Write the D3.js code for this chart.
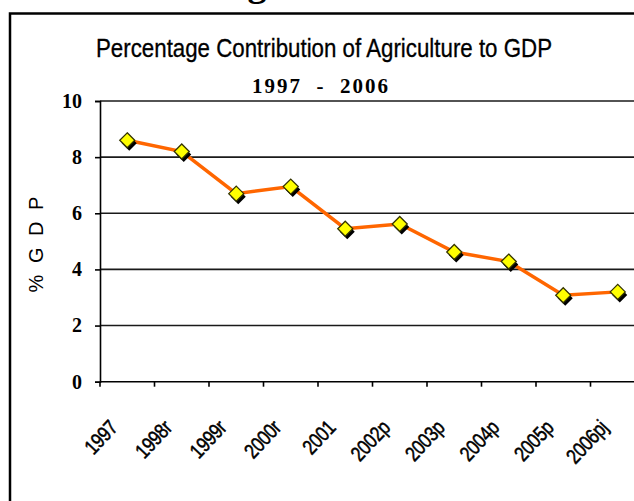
<!DOCTYPE html>
<html>
<head>
<meta charset="utf-8">
<script src="https://cdn.jsdelivr.net/npm/d3@7"></script>
<style>
  body { margin: 0; background: #fff; }
  svg { display: block; }
</style>
</head>
<body>
<div id="chart"></div>
<script>
const years = ["1997", "1998r", "1999r", "2000r", "2001", "2002p", "2003p", "2004p", "2005p", "2006pj"];
const gdpShare = [8.6, 8.2, 6.7, 6.95, 5.45, 5.62, 4.62, 4.28, 3.08, 3.2];
const yTicks = [0, 2, 4, 6, 8, 10];

const width = 634;
const height = 501;
const plot = { left: 100, right: 645, top: 101, bottom: 381.7 };

const svg = d3.select("#chart")
  .append("svg")
  .attr("width", width)
  .attr("height", height);

// heading from the page above, mostly cut off
svg.append("text")
  .attr("x", 220)
  .attr("y", -4)
  .attr("font-family", "'Liberation Serif', 'Times New Roman', serif")
  .attr("font-weight", "bold")
  .attr("font-size", 38)
  .text("Agriculture");

// outer frame
svg.append("rect")
  .attr("x", 10)
  .attr("y", 13.5)
  .attr("width", 700)
  .attr("height", 600)
  .attr("fill", "none")
  .attr("stroke", "#000")
  .attr("stroke-width", 2.5);

svg.append("text")
  .attr("x", 96)
  .attr("y", 56.5)
  .attr("textLength", 456)
  .attr("lengthAdjust", "spacingAndGlyphs")
  .attr("font-family", "'Liberation Sans Narrow', 'Arial Narrow', 'Liberation Sans', sans-serif")
  .attr("font-size", 25)
  .attr("stroke", "#000")
  .attr("stroke-width", 0.3)
  .text("Percentage Contribution of Agriculture to GDP");

svg.append("text")
  .attr("x", 252)
  .attr("y", 93)
  .attr("textLength", 136)
  .attr("lengthAdjust", "spacing")
  .attr("font-family", "'Liberation Serif', 'Times New Roman', serif")
  .attr("font-weight", "bold")
  .attr("font-size", 21)
  .style("white-space", "pre")
  .text("1997  -  2006");

const x = d3.scaleBand()
  .domain(years)
  .range([plot.left, plot.right]);

const y = d3.scaleLinear()
  .domain([0, 10])
  .range([plot.bottom, plot.top]);

// gridlines
svg.append("g")
  .selectAll("line")
  .data(yTicks.filter(d => d > 0))
  .enter()
  .append("line")
  .attr("x1", plot.left)
  .attr("x2", plot.right)
  .attr("y1", d => y(d))
  .attr("y2", d => y(d))
  .attr("stroke", "#1a1a1a")
  .attr("stroke-width", 1.6);

// y axis
const yAxis = svg.append("g")
  .attr("transform", `translate(${plot.left},0)`)
  .call(d3.axisLeft(y).tickValues(yTicks).tickSize(5).tickPadding(13));
yAxis.select(".domain").attr("stroke-width", 1.6);
yAxis.selectAll(".tick line").attr("stroke-width", 1.6);
yAxis.selectAll("text")
  .attr("font-family", "'Liberation Serif', 'Times New Roman', serif")
  .attr("font-weight", "bold")
  .attr("font-size", 20)
  .attr("fill", "#000");

// x axis, ticks on band edges
const xAxis = svg.append("g")
  .attr("transform", `translate(0,${plot.bottom})`);
xAxis.append("line")
  .attr("x1", plot.left)
  .attr("x2", plot.right)
  .attr("stroke", "#000")
  .attr("stroke-width", 1.6);
xAxis.selectAll(".xtick")
  .data(years)
  .enter()
  .append("line")
  .attr("x1", d => x(d))
  .attr("x2", d => x(d))
  .attr("y1", 0)
  .attr("y2", 5)
  .attr("stroke", "#000")
  .attr("stroke-width", 1.6);
xAxis.selectAll("text")
  .data(years)
  .enter()
  .append("text")
  .attr("transform", d => `translate(${x(d) + x.bandwidth() / 2 - 8.5},${47}) rotate(-47) scale(0.82,1)`)
  .attr("text-anchor", "end")
  .attr("font-family", "'Liberation Sans', Arial, sans-serif")
  .attr("font-size", 21)
  .attr("letter-spacing", -0.4)
  .attr("stroke", "#000")
  .attr("stroke-width", 0.5)
  .text(d => d);

svg.append("text")
  .attr("transform", "translate(43,243) rotate(-90)")
  .attr("text-anchor", "middle")
  .attr("font-family", "'Liberation Sans', Arial, sans-serif")
  .attr("font-size", 20)
  .attr("letter-spacing", 3)
  .text("% G D P");

const pts = years.map((d, i) => ({ cat: d, val: gdpShare[i] }));

svg.append("path")
  .datum(pts)
  .attr("fill", "none")
  .attr("stroke", "#ff6600")
  .attr("stroke-width", 3.5)
  .attr("d", d3.line()
    .x(d => x(d.cat) + x.bandwidth() / 2)
    .y(d => y(d.val)));

const diamond = "M0,-7.5L7.5,0L0,7.5L-7.5,0Z";

svg.append("g")
  .selectAll("path")
  .data(pts)
  .enter()
  .append("path")
  .attr("d", diamond)
  .attr("transform", d => `translate(${x(d.cat) + x.bandwidth() / 2 + 2},${y(d.val) + 3})`)
  .attr("fill", "#000");

svg.append("g")
  .selectAll("path")
  .data(pts)
  .enter()
  .append("path")
  .attr("d", diamond)
  .attr("transform", d => `translate(${x(d.cat) + x.bandwidth() / 2},${y(d.val)})`)
  .attr("fill", "#ffff00")
  .attr("stroke", "#333300")
  .attr("stroke-width", 1.3);
</script>
</body>
</html>
